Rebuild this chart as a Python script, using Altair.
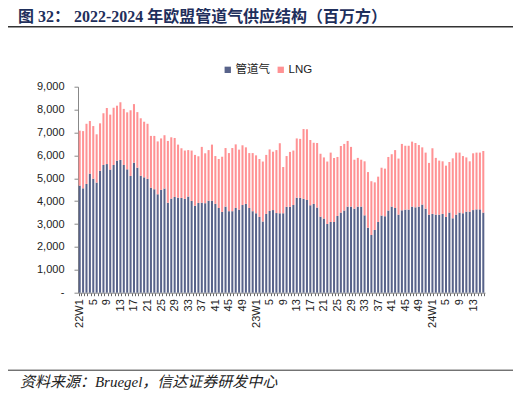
import altair as alt
import pandas as pd

TITLE = "图 32： 2022-2024 年欧盟管道气供应结构（百万方）"
SOURCE = "资料来源：Bruegel，信达证券研发中心"

years = ["22", "23", "24"]
weeks_per_year = [52, 52, 16]

pipeline = [
    4680, 4560, 4750, 5200, 4980, 4810, 5330, 5580, 5620, 5380,
    5580, 5770, 5800, 5580, 5390, 5100, 5680, 5460, 5110, 5040,
    4970, 4590, 4520, 4300, 4490, 4550, 3930, 4110, 4180, 4150,
    4140, 4100, 4200, 4010, 3800, 3920, 3930, 3910, 4020, 4020,
    3880, 3700, 3530, 3760, 3560, 3560, 3700, 3630, 3830, 3880,
    3700, 3560,
    3470, 3310, 3110, 3440, 3570, 3610, 3480, 3470, 3470, 3750,
    3750, 3830, 4150, 4140, 4100, 4050, 3820, 3880, 3720, 3320,
    3240, 3000, 3090, 3090, 3350, 3500, 3590, 3760, 3760, 3670,
    3760, 3760, 3380, 2840, 2520, 2740, 3090, 3370, 3340, 3590,
    3760, 3700, 3410, 3600, 3630, 3630, 3760, 3730, 3760, 3850,
    3670, 3410,
    3440, 3410, 3410, 3440, 3310, 3500, 3250, 3410, 3500, 3470,
    3540, 3540, 3610, 3640, 3640, 3500,
]

lng = [
    2400, 2500, 2630, 2300, 2300, 2110, 2070, 2260, 2450, 2400,
    2500, 2400, 2520, 2450, 2490, 2870, 2560, 2430, 2510, 2430,
    2410, 2260, 2330, 2310, 2250, 2330, 2700, 2680, 2580, 2320,
    2170, 2110, 2030, 2200, 2220, 2040, 2440, 2180, 2210, 2450,
    2090, 2140, 2410, 2560, 2540, 2760, 2780, 2620, 2610, 2470,
    2400, 2540,
    2530, 2530, 2620, 2580, 2690, 2550, 2750, 3060, 2020, 2220,
    2400, 2380, 2590, 2580, 3050, 3090, 2850, 2670, 2820, 2750,
    2670, 2730, 3030, 2800, 2580, 2910, 2910, 2870, 2610, 2140,
    2130, 2050, 2360, 2430, 2350, 2080, 1980, 2090, 2080, 2340,
    2290, 2530, 2450, 2900, 2790, 2790, 2840, 2810, 2690, 2500,
    2450, 2260,
    2870, 2480, 2360, 2300, 2240, 2210, 2620, 2710, 2620, 2500,
    2370, 2200, 2480, 2480, 2480, 2690,
]

series_names = ["管道气", "LNG"]
colors = ["#58638A", "#FF9294"]

weeks = [f"{y}W{w}" for y, n in zip(years, weeks_per_year) for w in range(1, n + 1)]

rows = []
for i, wk in enumerate(weeks):
    rows.append({"week": wk, "series": series_names[0], "value": pipeline[i], "ord": 0})
    rows.append({"week": wk, "series": series_names[1], "value": lng[i], "ord": 1})
df = pd.DataFrame(rows)

label_expr = (
    "indexof(['22W1','23W1','24W1'], datum.value) >= 0 ? datum.value : "
    "((toNumber(split(datum.value,'W')[1]) - 1) % 4 == 0 ? split(datum.value,'W')[1] : '')"
)

sans = "Liberation Sans, Noto Sans CJK SC"

bars = alt.Chart(df).mark_bar().encode(
    x=alt.X(
        "week:N",
        sort=weeks,
        scale=alt.Scale(paddingInner=0.4, paddingOuter=0.2),
        axis=alt.Axis(
            title=None,
            labelAngle=270,
            labelExpr=label_expr,
            labelOverlap=False,
            labelFontSize=11,
            labelFont=sans,
            labelColor="#222222",
            labelPadding=3,
            tickSize=3,
            tickColor="#666666",
            tickBand="extent",
            domainColor="#888888",
        ),
    ),
    y=alt.Y(
        "value:Q",
        stack="zero",
        scale=alt.Scale(domain=[0, 9000]),
        axis=alt.Axis(
            title=None,
            values=[0, 1000, 2000, 3000, 4000, 5000, 6000, 7000, 8000, 9000],
            labelExpr="datum.value == 0 ? '-' : format(datum.value, ',')",
            labelFontSize=11,
            labelFont=sans,
            labelColor="#222222",
            labelPadding=10,
            tickSize=4,
            tickColor="#888888",
            domainColor="#888888",
            grid=False,
        ),
    ),
    color=alt.Color(
        "series:N",
        scale=alt.Scale(domain=series_names, range=colors),
        legend=alt.Legend(
            title=None,
            orient="none",
            legendX=144,
            legendY=-23,
            direction="horizontal",
            symbolType="square",
            symbolSize=40,
            symbolStrokeWidth=0,
            labelFontSize=11.5,
            labelFont=sans,
            labelColor="#222222",
            labelOffset=2,
            columnPadding=5,
        ),
    ),
    order=alt.Order("ord:Q"),
)

title = alt.Chart(pd.DataFrame({"t": [TITLE]})).mark_text(
    align="left", baseline="middle", fontSize=16, fontWeight="bold",
    font="Liberation Serif, Noto Sans CJK SC", color="#1F2F5C",
).encode(text="t:N", x=alt.value(-60), y=alt.value(-70))

source = alt.Chart(pd.DataFrame({"t": [SOURCE]})).mark_text(
    align="left", baseline="middle", fontSize=15, fontStyle="italic",
    font="Liberation Serif, Noto Sans CJK SC", color="#222222",
).encode(text="t:N", x=alt.value(-58), y=alt.value(295.5))

top_line = alt.Chart(pd.DataFrame({"a": [0]})).mark_rule(
    color="#333333", strokeWidth=1.5
).encode(x=alt.value(-73), x2=alt.value(437), y=alt.value(-60))

bottom_line = alt.Chart(pd.DataFrame({"a": [0]})).mark_rule(
    color="#333333", strokeWidth=1
).encode(x=alt.value(-73), x2=alt.value(437), y=alt.value(283.5))

chart = alt.layer(bars, title, source, top_line, bottom_line).properties(
    width=407,
    height=206,
    padding={"left": 70, "top": 78.7, "right": 28, "bottom": 102},
    autosize=alt.AutoSizeParams(type="none"),
).configure_view(stroke=None)

chart.save("out.html", embed_options={"renderer": "svg", "actions": False})
